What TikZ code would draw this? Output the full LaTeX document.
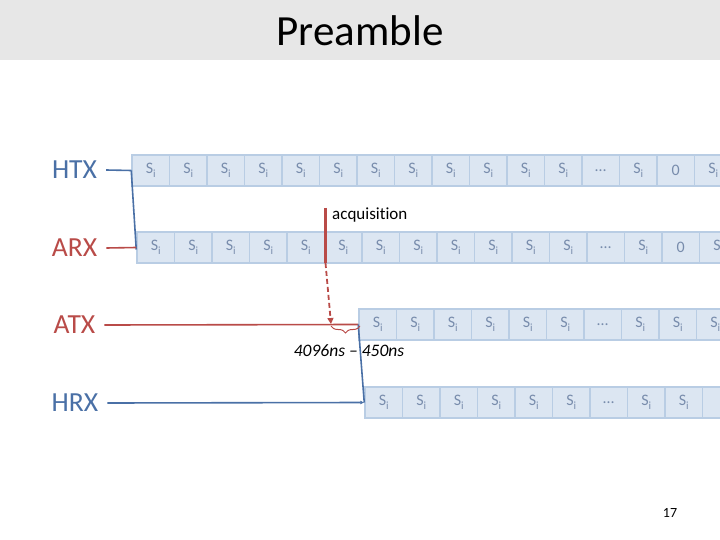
\documentclass[tikz,border=0pt]{standalone}
\usepackage{fontspec}
\setmainfont{Carlito}[Ligatures=NoCommon]
\usetikzlibrary{decorations.pathreplacing,arrows.meta}
\definecolor{hblue}{RGB}{74,112,166}
\definecolor{ared}{RGB}{185,75,72}
\definecolor{cellfill}{RGB}{220,230,242}
\definecolor{celldraw}{RGB}{185,205,228}
\definecolor{celltext}{RGB}{120,140,172}
\definecolor{band}{RGB}{231,231,231}
\newcommand\cellS{S\raisebox{-0.45ex}{\fontsize{11}{11}\selectfont i}}
\begin{document}
\begin{tikzpicture}[x=1pt,y=-1pt,
  cell/.style={draw=celldraw, fill=cellfill, line width=1.5pt, minimum width=37.5pt,
    minimum height=31pt, inner sep=0pt, text=celltext, font=\fontsize{16}{16}\selectfont},
  sig/.style={font=\fontsize{27.6}{28}\selectfont, inner sep=0pt},
  bline/.style={hblue, line width=1.6pt},
  rline/.style={ared, line width=1.6pt}]
\useasboundingbox (0,0) rectangle (720,540);
\fill[band] (0,0) rectangle (720,60);
\node[font=\fontsize{43}{44}\selectfont] (title) at (360,31) {Preamble};

% signal labels
\node[sig, text=hblue] (htxl) at (74.5,170) {HTX};
\node[sig, text=ared]  (arxl) at (74.5,248) {ARX};
\node[sig, text=ared]  (atxl) at (74.5,325) {ATX};
\node[sig, text=hblue] (hrxl) at (75,403) {HRX};

% rows of cells
\foreach \lab [count=\i from 0] in {\cellS,\cellS,\cellS,\cellS,\cellS,\cellS,\cellS,\cellS,\cellS,\cellS,\cellS,\cellS,\dots,\cellS,0,\cellS}
  \node[cell] (htx\i) at ({132+18.75+37.5*\i},170.5) {\lab};
\foreach \lab [count=\i from 0] in {\cellS,\cellS,\cellS,\cellS,\cellS,\cellS,\cellS,\cellS,\cellS,\cellS,\cellS,\cellS,\dots,\cellS,0,\cellS}
  \node[cell] (arx\i) at ({137+18.75+37.5*\i},247.5) {\lab};
\foreach \lab [count=\i from 0] in {\cellS,\cellS,\cellS,\cellS,\cellS,\cellS,\dots,\cellS,\cellS,\cellS}
  \node[cell] (atx\i) at ({359+18.75+37.5*\i},324.5) {\lab};
\foreach \lab [count=\i from 0] in {\cellS,\cellS,\cellS,\cellS,\cellS,\cellS,\dots,\cellS,\cellS,{}}
  \node[cell] (hrx\i) at ({365+18.75+37.5*\i},402.5) {\lab};

% connectors
\draw[bline] ([xshift=9pt]htxl.east) -- (htx0.west);
\draw[bline] (htx0.west) -- ([yshift=-2pt]arx0.west);
\draw[rline] ([xshift=9pt]arxl.east) -- (arx0.west);
\draw[rline] ([xshift=9pt]atxl.east) -- (atx0.west);
\draw[bline] (atx0.west) -- (hrx0.west);
\draw[bline, -{Latex[length=4pt,width=4pt]}] ([xshift=9pt]hrxl.east) -- (hrx0.west);

% acquisition
\coordinate (acqtop) at (325.5,208);
\coordinate (acqmid) at (325.5,263);
\coordinate (acqend) at (331,324);
\draw[ared, line width=2.6pt] (acqtop) -- (acqmid);
\draw[ared, line width=1.8pt, dashed, dash pattern=on 5pt off 3pt, -{Triangle[length=6pt,width=6pt]}] (acqmid) -- (acqend);
\node[anchor=west, font=\fontsize{17}{17}\selectfont, inner sep=0pt] (acq) at (332,215) {acquisition};

% brace
\coordinate (bl) at (331,326);
\coordinate (br) at (360,326);
\draw[ared, line width=1pt, decorate, decoration={brace, mirror, amplitude=7pt}] (bl) -- (br);
\node[font=\fontsize{17.5}{17.5}\selectfont\itshape, inner sep=0pt] (dly) at (349,351) {4096ns – 450ns};

\node[font=\fontsize{14}{14}\selectfont] (pg) at (670,513) {17};
\end{tikzpicture}
\end{document}
